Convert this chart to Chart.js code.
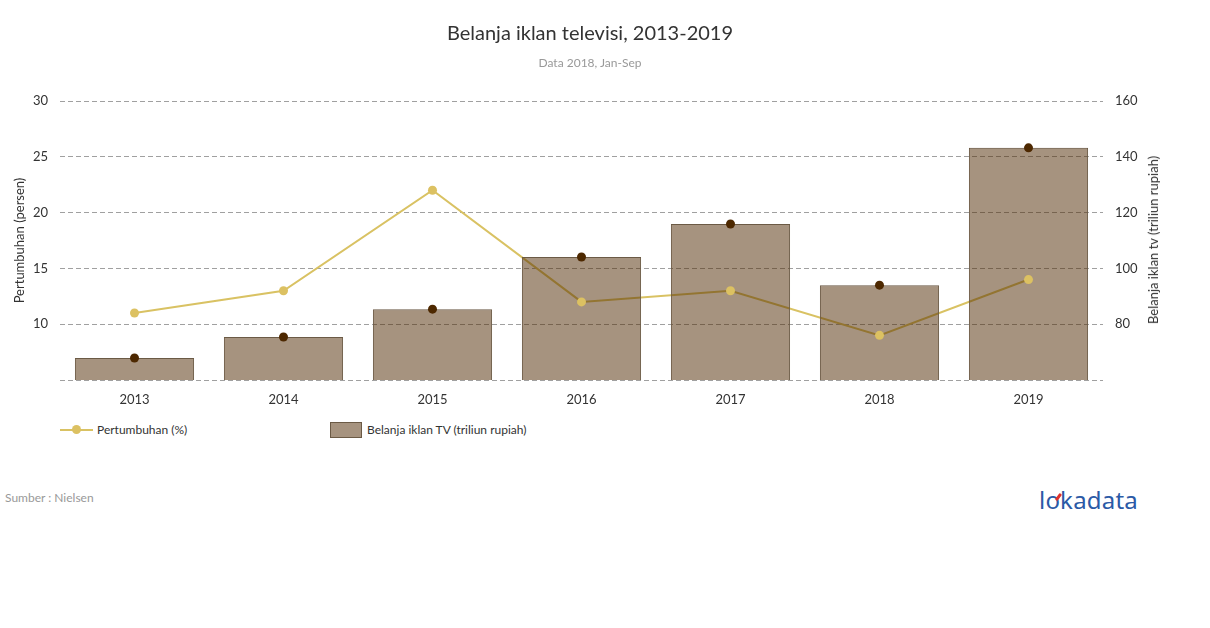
<!DOCTYPE html>
<html>
<head>
<meta charset="utf-8">
<script src="https://cdn.jsdelivr.net/npm/chart.js@4/dist/chart.umd.min.js"></script>
<style>
  html, body { margin: 0; padding: 0; background: #fff; }
  body { width: 1210px; height: 628px; position: relative; overflow: hidden; font-family: Lato, "Open Sans", sans-serif; }
  #wrap { position: absolute; left: 0; top: 0; width: 1210px; height: 420px; }
  .abs { position: absolute; white-space: nowrap; }
  #title { left: 0; width: 1180px; top: 20px; text-align: center; font-size: 20px; color: #333; }
  #subtitle { left: 0; width: 1180px; top: 55px; text-align: center; font-size: 12px; color: #999; }
  #rtitle { left: 1153px; top: 240px; font-size: 13px; color: #333; transform: translate(-50%, -50%) rotate(-90deg); }
  .leg { top: 422px; font-size: 12px; color: #333; line-height: 16px; }
  #src { left: 5px; top: 490px; font-size: 12px; color: #999; }
  #logo { left: 1039px; top: 483px; font-size: 24px; color: #2b5aa6; font-family: "Noto Sans", Lato, sans-serif; font-weight: 400; letter-spacing: 0.2px; }
</style>
</head>
<body>
<div id="wrap"><canvas id="c" width="1210" height="420"></canvas></div>
<div id="title" class="abs">Belanja iklan televisi, 2013-2019</div>
<div id="subtitle" class="abs">Data 2018, Jan-Sep</div>
<div id="rtitle" class="abs">Belanja iklan tv (triliun rupiah)</div>

<div class="abs leg" style="left:60px;">
  <span style="position:absolute;left:0;top:7px;width:33px;height:2px;background:#d9c263;"></span>
  <span style="position:absolute;left:12px;top:3px;width:9px;height:9px;border-radius:50%;background:#dcc162;"></span>
  <span style="position:absolute;left:37px;top:0;">Pertumbuhan (%)</span>
</div>
<div class="abs leg" style="left:330px;">
  <span style="position:absolute;left:0;top:0;width:30px;height:14px;background:rgba(77,40,0,0.5);border:1px solid #6b5a45;"></span>
  <span style="position:absolute;left:37px;top:0;">Belanja iklan TV (triliun rupiah)</span>
</div>

<div id="src" class="abs">Sumber : Nielsen</div>
<div id="logo" class="abs">lokadata<span style="position:absolute;left:18px;top:10px;width:3px;height:8px;background:#e0322b;transform:rotate(35deg);border-radius:1px;"></span></div>

<script>
const categories = ['2013', '2014', '2015', '2016', '2017', '2018', '2019'];
const growthPct = [11.0, 13.0, 22.0, 12.0, 13.0, 9.0, 14.0];
const tvSpend = [67.9, 75.4, 85.4, 104.1, 115.9, 94.0, 143.2];
const leftTicks = [5, 10, 15, 20, 25, 30];
const rightTicks = [60, 80, 100, 120, 140, 160];

const lineColor = '#d9c263';
const dotYellow = '#dcc162';
const dotDark = '#4d2800';
const barFill = 'rgba(77,40,0,0.5)';
const barBorder = '#6b5a45';

new Chart(document.getElementById('c'), {
  data: {
    labels: categories,
    datasets: [
      { type: 'line', label: 'dots-tv', data: tvSpend, yAxisID: 'yR', showLine: false,
        pointRadius: 4.5, pointBackgroundColor: dotDark, pointBorderWidth: 0, order: 0 },
      { type: 'line', label: 'dots-growth', data: growthPct, yAxisID: 'yL', showLine: false,
        pointRadius: 4.5, pointBackgroundColor: dotYellow, pointBorderWidth: 0, order: 1 },
      { type: 'bar', label: 'Belanja iklan TV (triliun rupiah)', data: tvSpend, yAxisID: 'yR',
        backgroundColor: barFill, borderColor: barBorder, borderWidth: 1,
        categoryPercentage: 1.0, barPercentage: 0.8, order: 2 },
      { type: 'line', label: 'Pertumbuhan (%)', data: growthPct, yAxisID: 'yL',
        borderColor: lineColor, borderWidth: 2, pointRadius: 0, tension: 0, order: 3 }
    ]
  },
  options: {
    responsive: false,
    animation: false,
    layout: { padding: { top: 101, left: 0, right: 0, bottom: 0 } },
    plugins: { legend: { display: false }, tooltip: { enabled: false } },
    scales: {
      x: {
        offset: true,
        grid: { display: false, drawTicks: false },
        border: { display: false },
        ticks: { color: '#333', font: { family: 'Lato', size: 13 }, padding: 12 },
        afterFit: s => { s.height = 40; }
      },
      yL: {
        position: 'left', min: 5, max: 30,
        afterBuildTicks: s => { s.ticks = leftTicks.map(v => ({ value: v })); },
        ticks: { color: '#333', font: { family: 'Lato', size: 13 }, padding: 12,
                 callback: v => (v === 5 ? '' : String(v)) },
        grid: { color: '#a0a0a0', borderDash: [5, 3], drawTicks: false, lineWidth: 1 },
        border: { display: false, dash: [5, 3] },
        title: { display: true, text: 'Pertumbuhan (persen)', color: '#333',
                 font: { family: 'Lato', size: 13 }, padding: { top: 12, bottom: 0 } },
        afterFit: s => { s.width = 60; }
      },
      yR: {
        position: 'right', min: 60, max: 160,
        afterBuildTicks: s => { s.ticks = rightTicks.map(v => ({ value: v })); },
        ticks: { color: '#333', font: { family: 'Lato', size: 13 }, padding: 12,
                 callback: v => (v === 60 ? '' : String(v)) },
        grid: { display: false, drawTicks: false },
        border: { display: false },
        afterFit: s => { s.width = 107; }
      }
    }
  }
});
</script>
</body>
</html>
